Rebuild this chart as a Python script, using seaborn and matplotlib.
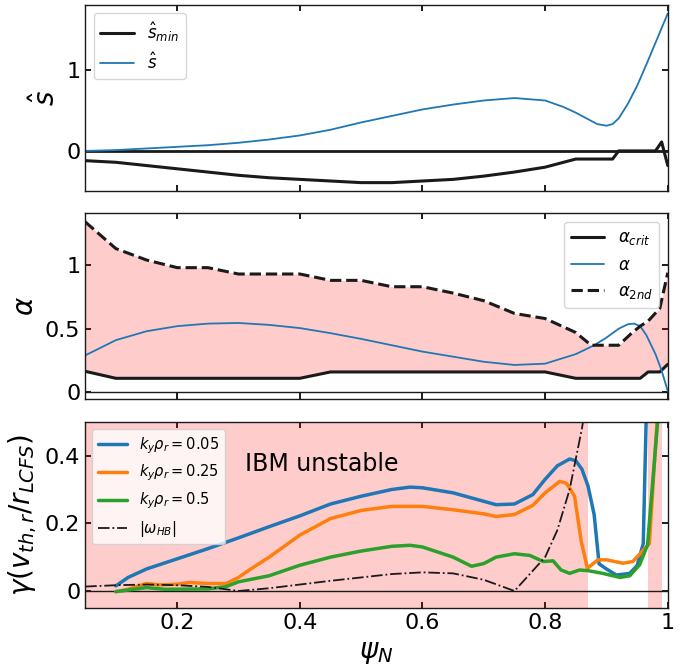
import numpy as np
import pandas as pd
import matplotlib
matplotlib.use("Agg")
import matplotlib.pyplot as plt
import seaborn as sns
from matplotlib.ticker import FormatStrFormatter

# ---------------- data ----------------
# top panel: magnetic shear
psi_s = [0.05, 0.1, 0.15, 0.2, 0.25, 0.3, 0.35, 0.4, 0.45, 0.5, 0.55, 0.6, 0.65,
         0.7, 0.75, 0.8, 0.83, 0.85, 0.87, 0.885, 0.9, 0.91, 0.92, 0.935, 0.95,
         0.965, 0.98, 1.0]
s_hat = [0.0, 0.01, 0.03, 0.05, 0.07, 0.1, 0.14, 0.19, 0.26, 0.35, 0.43, 0.51, 0.57,
         0.62, 0.65, 0.62, 0.54, 0.47, 0.39, 0.33, 0.31, 0.33, 0.40, 0.58, 0.80,
         1.06, 1.33, 1.69]

psi_smin = [0.05, 0.1, 0.15, 0.2, 0.25, 0.3, 0.35, 0.4, 0.45, 0.5, 0.55, 0.6, 0.65,
            0.7, 0.75, 0.8, 0.85, 0.91, 0.92, 0.98, 0.99, 1.0]
s_min = [-0.12, -0.14, -0.18, -0.22, -0.26, -0.30, -0.33, -0.35, -0.37, -0.39, -0.39,
         -0.37, -0.35, -0.31, -0.26, -0.2, -0.1, -0.1, 0.0, 0.0, 0.11, -0.18]

# middle panel: ballooning alpha
psi_ac = [0.05, 0.1, 0.15, 0.2, 0.25, 0.3, 0.35, 0.4, 0.45, 0.5, 0.55, 0.6, 0.65,
          0.7, 0.75, 0.8, 0.85, 0.875, 0.9, 0.92, 0.94, 0.955, 0.968, 0.987, 1.0]
alpha_crit = [0.165, 0.11, 0.11, 0.11, 0.11, 0.11, 0.11, 0.11, 0.16, 0.16, 0.16, 0.16,
              0.16, 0.16, 0.16, 0.16, 0.11, 0.11, 0.11, 0.11, 0.11, 0.11, 0.16, 0.16, 0.22]
alpha_2nd = [1.34, 1.13, 1.04, 0.98, 0.98, 0.93, 0.93, 0.93, 0.88, 0.88, 0.83, 0.83,
             0.78, 0.72, 0.62, 0.58, 0.47, 0.37, 0.37, 0.37, 0.46, 0.52, 0.56, 0.66, 0.94]

psi_al = [0.05, 0.1, 0.15, 0.2, 0.25, 0.3, 0.35, 0.4, 0.45, 0.5, 0.55, 0.6, 0.65,
          0.7, 0.75, 0.8, 0.85, 0.88, 0.9, 0.92, 0.935, 0.945, 0.955, 0.965, 0.98, 0.99, 1.0]
alpha = [0.29, 0.41, 0.48, 0.52, 0.54, 0.545, 0.53, 0.505, 0.465, 0.42, 0.37, 0.32,
         0.28, 0.24, 0.215, 0.225, 0.30, 0.37, 0.43, 0.50, 0.535, 0.54, 0.52, 0.45,
         0.30, 0.17, 0.01]

# bottom panel: growth rates
psi_k1 = [0.1, 0.12, 0.15, 0.2, 0.25, 0.3, 0.35, 0.4, 0.45, 0.5, 0.55, 0.58, 0.6, 0.65,
          0.7, 0.72, 0.75, 0.78, 0.8, 0.82, 0.84, 0.85, 0.86, 0.87, 0.88, 0.888, 0.9,
          0.916, 0.938, 0.95, 0.96, 0.966]
gam_k1 = [0.015, 0.04, 0.065, 0.095, 0.125, 0.157, 0.19, 0.222, 0.257, 0.28, 0.30, 0.307,
          0.305, 0.29, 0.265, 0.255, 0.257, 0.285, 0.33, 0.37, 0.39, 0.385, 0.36, 0.31,
          0.225, 0.08, 0.065, 0.047, 0.052, 0.075, 0.14, 0.6]

psi_k2 = [0.1, 0.12, 0.15, 0.17, 0.2, 0.22, 0.25, 0.28, 0.3, 0.32, 0.35, 0.4, 0.45, 0.5,
          0.55, 0.6, 0.65, 0.7, 0.72, 0.75, 0.78, 0.8, 0.824, 0.835, 0.848, 0.859, 0.869,
          0.886, 0.9, 0.927, 0.943, 0.97, 0.986]
gam_k2 = [-0.002, 0.005, 0.022, 0.018, 0.02, 0.025, 0.022, 0.022, 0.04, 0.065, 0.10,
          0.165, 0.214, 0.238, 0.25, 0.25, 0.24, 0.228, 0.22, 0.226, 0.253, 0.29, 0.324,
          0.318, 0.28, 0.146, 0.067, 0.092, 0.092, 0.082, 0.087, 0.14, 0.6]

psi_k3 = [0.1, 0.15, 0.18, 0.25, 0.28, 0.3, 0.35, 0.4, 0.45, 0.5, 0.55, 0.58, 0.6, 0.65,
          0.68, 0.7, 0.72, 0.75, 0.775, 0.797, 0.813, 0.826, 0.84, 0.856, 0.87, 0.894,
          0.922, 0.938, 0.954, 0.967, 0.988]
gam_k3 = [-0.002, 0.01, 0.005, 0.006, 0.013, 0.027, 0.045, 0.076, 0.10, 0.118, 0.132,
          0.135, 0.13, 0.10, 0.073, 0.081, 0.10, 0.11, 0.105, 0.087, 0.089, 0.062, 0.052,
          0.062, 0.06, 0.052, 0.04, 0.045, 0.077, 0.136, 0.6]

psi_hb = [0.05, 0.1, 0.15, 0.2, 0.25, 0.3, 0.35, 0.4, 0.45, 0.5, 0.55, 0.6, 0.65, 0.7,
          0.75, 0.78, 0.8, 0.82, 0.84, 0.86, 0.88, 0.9]
omega_hb = [0.013, 0.017, 0.019, 0.017, 0.012, 0.0, 0.008, 0.019, 0.03, 0.04, 0.05,
            0.055, 0.052, 0.033, 0.0, 0.06, 0.1, 0.18, 0.30, 0.48, 0.7, 1.0]

unstable_spans = [(0.05, 0.870), (0.968, 0.990)]
x_ticks = [0.2, 0.4, 0.6, 0.8, 1.0]

# ---------------- style ----------------
sns.set_theme(style="ticks", rc={
    "text.color": "black", "axes.labelcolor": "black",
    "xtick.color": "black", "ytick.color": "black",
    "axes.edgecolor": "black",
})
plt.rcParams["font.family"] = ["DejaVu Sans"]
plt.rcParams["mathtext.fontset"] = "dejavusans"

fig, axes = plt.subplots(3, 1, sharex=True, figsize=(6.87, 6.68), dpi=100)
fig.subplots_adjust(left=0.124, right=0.972, top=0.9925, bottom=0.09, hspace=0.12)
ax1, ax2, ax3 = axes

blue, orange, green = sns.color_palette("tab10")[:3]

# top
sns.lineplot(x=psi_smin, y=s_min, ax=ax1, color="k", lw=2.2, label=r"$\hat{s}_{min}$")
sns.lineplot(x=psi_s, y=s_hat, ax=ax1, color=blue, lw=1.3, label=r"$\hat{s}$")
ax1.axhline(0, color="k", lw=2.0, zorder=1)
ax1.set_yticks([0, 1])
ax1.set_ylabel(r"$\hat{s}$", fontsize=20)
ax1.legend(loc="upper left", fontsize=12)

# middle
ax2.fill_between(psi_ac, alpha_crit, alpha_2nd, color="red", alpha=0.2, lw=0)
sns.lineplot(x=psi_ac, y=alpha_crit, ax=ax2, color="k", lw=2.2, label=r"$\alpha_{crit}$")
sns.lineplot(x=psi_al, y=alpha, ax=ax2, color=blue, lw=1.3, label=r"$\alpha$")
sns.lineplot(x=psi_ac, y=alpha_2nd, ax=ax2, color="k", lw=2.2, ls="--", label=r"$\alpha_{2nd}$")
ax2.axhline(0, color="k", lw=1.0, zorder=1)
ax2.set_yticks([0, 0.5, 1])
ax2.set_ylabel(r"$\alpha$", fontsize=20)
ax2.legend(loc="upper right", fontsize=12)

# bottom
for a, b in unstable_spans:
    ax3.axvspan(a, b, color="red", alpha=0.2, lw=0)
sns.lineplot(x=psi_k1, y=gam_k1, ax=ax3, color=blue, lw=2.5, label=r"$k_y\rho_r=0.05$")
sns.lineplot(x=psi_k2, y=gam_k2, ax=ax3, color=orange, lw=2.5, label=r"$k_y\rho_r=0.25$")
sns.lineplot(x=psi_k3, y=gam_k3, ax=ax3, color=green, lw=2.5, label=r"$k_y\rho_r=0.5$")
sns.lineplot(x=psi_hb, y=omega_hb, ax=ax3, color="k", lw=1.3, ls="-.", label=r"$|\omega_{HB}|$")
ax3.axhline(0, color="k", lw=1.0, zorder=1)
ax3.text(0.31, 0.355, "IBM unstable", fontsize=17)
ax3.set_ylim(-0.05, 0.5)
ax3.set_yticks([0, 0.2, 0.4])
ax3.set_ylabel(r"$\gamma(v_{th,r}/r_{LCFS})$", fontsize=20)
ax3.set_xlabel(r"$\psi_N$", fontsize=20)
ax3.legend(loc="upper left", fontsize=10.5)

ax3.set_xlim(0.05, 1.0)
ax3.set_xticks(x_ticks)
ax3.xaxis.set_major_formatter(FormatStrFormatter("%g"))

for ax in axes:
    ax.tick_params(direction="in", top=True, right=True, labelsize=16, length=4,
                   colors="black")
    ax.yaxis.set_major_formatter(FormatStrFormatter("%g"))
    for sp in ax.spines.values():
        sp.set_visible(True)
        sp.set_color("k")
        sp.set_linewidth(1.0)

fig.savefig("out.png", dpi=100)
